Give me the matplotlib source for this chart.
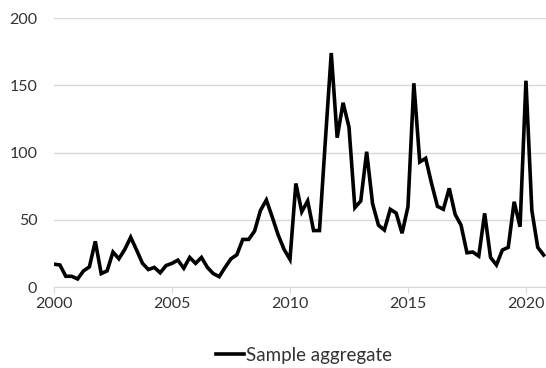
import numpy as np
import matplotlib
matplotlib.use("Agg")
import matplotlib.pyplot as plt

plt.rcParams['font.family'] = ['Lato', 'DejaVu Sans']

# quarterly values, 2000 Q1 .. 2020 Q4
start_year = 2000
values = [17, 16.4, 8, 8, 6, 12, 15, 34, 10, 12,
          26, 21, 28, 37, 27.5, 17.6, 13, 14.6, 10.6, 16,
          17.6, 20, 14, 22, 17.6, 22, 14.6, 10, 7.7, 14.6,
          21, 24, 35.4, 35.4, 41.6, 57, 64.7, 52, 38.7, 28,
          20.6, 77, 56, 64, 42, 42, 109, 174, 111, 137,
          119, 59, 64, 100.6, 62, 46, 42.4, 57.8, 55, 40,
          59.7, 151.5, 93, 95.7, 77, 60, 57.8, 73.4, 54, 46,
          25.5, 26, 23, 54.8, 22, 16.4, 27.5, 29.5, 63.4, 44.8,
          153.4, 57, 29.5, 23.8]
years = start_year + np.arange(len(values)) / 4
xticks = [2000, 2005, 2010, 2015, 2020]
yticks = [0, 50, 100, 150, 200]

fig = plt.figure(figsize=(5.46, 3.68), dpi=100)
ax = fig.add_axes([54/546, 0.22, 1 - 54/546, 0.951 - 0.22])

line, = ax.plot(years, values, color='black', lw=2.6, solid_joinstyle='miter',
                label='Sample aggregate')

ax.set_xlim(2000, 2020.85)
ax.set_ylim(0, 200)
ax.set_xticks(xticks)
ax.set_yticks(yticks)
ax.grid(axis='y', color='#d9d9d9', lw=1)
ax.set_axisbelow(True)
for s in ['top', 'right', 'left']:
    ax.spines[s].set_visible(False)
ax.spines['bottom'].set_color('#d9d9d9')
ax.tick_params(axis='y', length=0, pad=12, labelsize=11.5, labelcolor='#333333')
ax.tick_params(axis='x', length=4, color='#d9d9d9', pad=3, labelsize=11.5,
               labelcolor='#333333')

fig.legend(handles=[line], loc='center', bbox_to_anchor=(0.557, 0.035),
           frameon=False, fontsize=13.5, handlelength=1.5, handletextpad=0.1,
           labelcolor='#333333')

fig.savefig('out.png', dpi=100)
